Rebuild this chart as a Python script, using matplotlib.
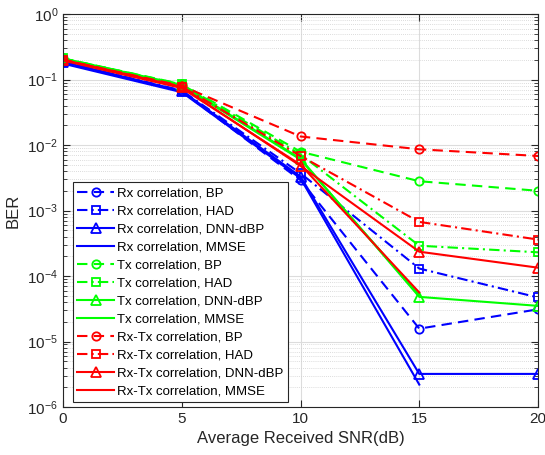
import matplotlib
matplotlib.use("Agg")
import matplotlib.pyplot as plt
from matplotlib.ticker import LogLocator, NullFormatter, FixedLocator

plt.rcParams['font.family'] = ['Liberation Sans', 'DejaVu Sans']
plt.rcParams['mathtext.fontset'] = 'custom'
plt.rcParams['mathtext.rm'] = 'Liberation Sans'
plt.rcParams['mathtext.it'] = 'Liberation Sans:italic'
plt.rcParams['mathtext.bf'] = 'Liberation Sans:bold'

snr = [0, 5, 10, 15, 20]
snr_mmse = [0, 5, 10, 15]

# Rx correlation
rx_bp = [0.185, 0.066, 0.0029, 1.57e-5, 3.1e-5]
rx_had = [0.185, 0.068, 0.0037, 1.3e-4, 4.7e-5]
rx_dnn = [0.185, 0.067, 0.0033, 3.2e-6, 3.2e-6]
rx_mmse = [0.175, 0.064, 0.0031, 2.2e-6]
# Tx correlation
tx_bp = [0.21, 0.085, 0.0079, 0.0028, 0.0020]
tx_had = [0.21, 0.084, 0.0072, 2.9e-4, 2.3e-4]
tx_dnn = [0.21, 0.083, 0.0062, 4.8e-5, 3.5e-5]
tx_mmse = [0.205, 0.08, 0.0060, 5.1e-5]
# Rx-Tx correlation
rxtx_bp = [0.20, 0.080, 0.0135, 0.0086, 0.0068]
rxtx_had = [0.20, 0.078, 0.0068, 6.7e-4, 3.6e-4]
rxtx_dnn = [0.20, 0.077, 0.0048, 2.35e-4, 1.34e-4]
rxtx_mmse = [0.195, 0.074, 0.0050, 5.6e-5]

labels = [
    "Rx correlation, BP", "Rx correlation, HAD", "Rx correlation, DNN-dBP", "Rx correlation, MMSE",
    "Tx correlation, BP", "Tx correlation, HAD", "Tx correlation, DNN-dBP", "Tx correlation, MMSE",
    "Rx-Tx correlation, BP", "Rx-Tx correlation, HAD", "Rx-Tx correlation, DNN-dBP", "Rx-Tx correlation, MMSE",
]

fig = plt.figure(figsize=(5.45, 4.55), dpi=100)
ax = fig.add_axes([0.1156, 0.1055, 0.8716, 0.8637])

groups = [
    ((0, 0, 1), rx_bp, rx_had, rx_dnn, rx_mmse),
    ((0, 1, 0), tx_bp, tx_had, tx_dnn, tx_mmse),
    ((1, 0, 0), rxtx_bp, rxtx_had, rxtx_dnn, rxtx_mmse),
]
li = 0
for col, bp, had, dnn, mmse in groups:
    ax.plot(snr, bp, linestyle=(0, (5, 3)), marker='o', color=col, lw=1.5,
            ms=6, mfc='none', mew=1.3, label=labels[li]); li += 1
    ax.plot(snr, had, linestyle=(0, (5, 2, 1, 2)), marker='s', color=col, lw=1.5,
            ms=5.5, mfc='none', mew=1.3, label=labels[li]); li += 1
    ax.plot(snr, dnn, linestyle='-', marker='^', color=col, lw=1.5,
            ms=6.5, mfc='none', mew=1.3, label=labels[li]); li += 1
    ax.plot(snr_mmse, mmse, linestyle='-', color=col, lw=1.5, label=labels[li]); li += 1

ax.set_yscale('log')
ax.set_xlim(0, 20)
ax.set_ylim(1e-6, 1)
ax.xaxis.set_major_locator(FixedLocator(snr))
ax.yaxis.set_major_locator(LogLocator(base=10, numticks=10))
ax.yaxis.set_minor_locator(LogLocator(base=10, subs=range(2, 10), numticks=20))
ax.yaxis.set_minor_formatter(NullFormatter())

ax.grid(True, which='major', color='#dcdcdc', lw=0.8, ls='-')
ax.grid(True, which='minor', axis='y', color='#d0d0d0', lw=0.6, ls=(0, (1, 1.5)))
ax.set_axisbelow(True)

tc = '#262626'
ax.tick_params(which='both', direction='in', top=True, right=True, colors=tc,
               labelsize=11, labelcolor=tc)
ax.tick_params(which='major', length=5, width=0.8)
ax.tick_params(which='minor', length=3, width=0.6)
for s in ax.spines.values():
    s.set_color(tc)
    s.set_linewidth(0.8)

ax.set_xlabel("Average Received SNR(dB)", fontsize=12, color=tc, labelpad=4)
ax.set_ylabel("BER", fontsize=12, color=tc, labelpad=5)

leg = ax.legend(loc='lower left', bbox_to_anchor=(0.02, 0.012), fontsize=9.5,
                handlelength=2.8, handletextpad=0.25, labelspacing=0.44,
                borderpad=0.35, borderaxespad=0.0, fancybox=False, framealpha=1,
                edgecolor='#262626')
leg.get_frame().set_linewidth(0.8)

fig.savefig("out.png", dpi=100)
